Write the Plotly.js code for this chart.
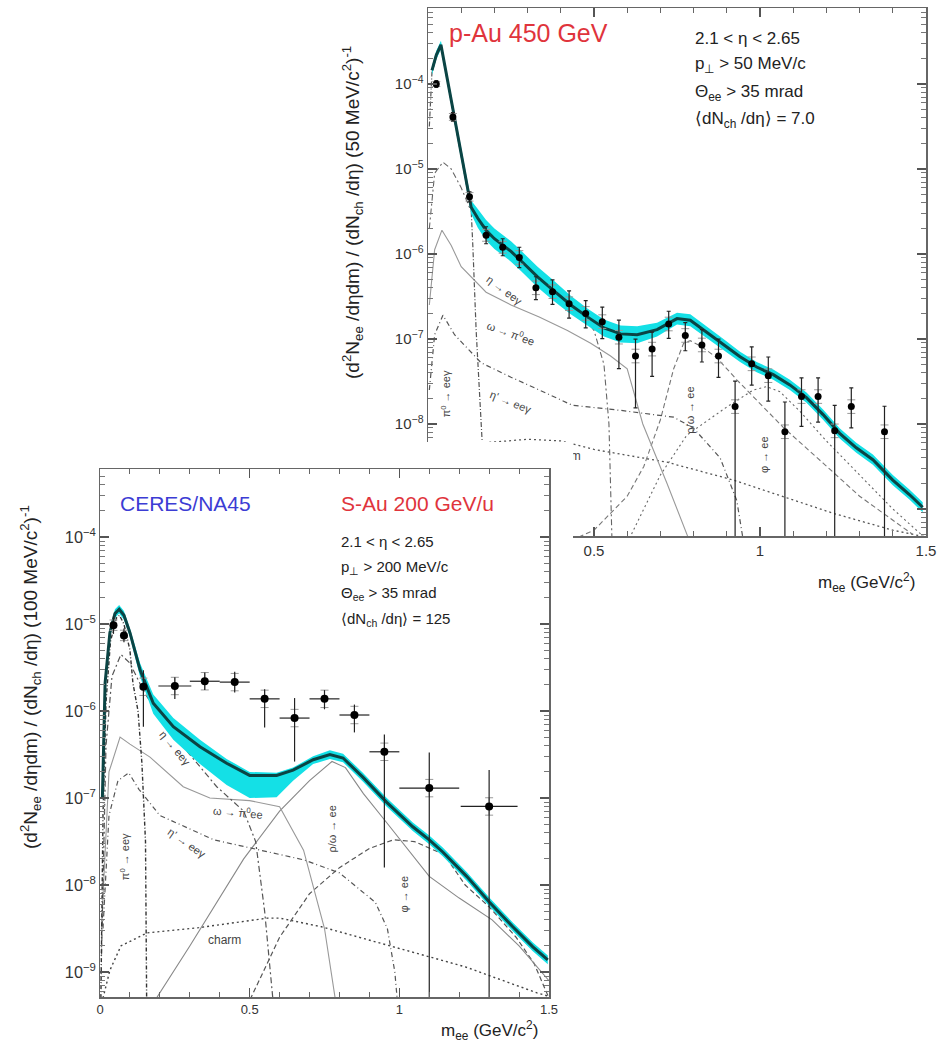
<!DOCTYPE html>
<html><head><meta charset="utf-8">
<script src="https://cdn.plot.ly/plotly-3.0.1.min.js"></script>
<style>html,body{margin:0;padding:0;background:#fff}#chart{width:942px;height:1049px}</style>
</head><body><div id="chart"></div>
<script>
// ================= p-Au 450 GeV (upper panel) =================
const pauMass = [0.025,0.075,0.125,0.175,0.225,0.275,0.325,0.375,0.425,0.475,0.525,0.575,0.625,0.675,0.725,0.775,0.825,0.875,0.925,0.975,1.025,1.075,1.125,1.175,1.225,1.275,1.375];
const pauYield = [1.0e-4,4.1e-5,4.7e-6,1.66e-6,1.2e-6,9.1e-7,4.0e-7,3.6e-7,2.6e-7,2.0e-7,1.6e-7,1.05e-7,6.3e-8,7.6e-8,1.5e-7,1.1e-7,8.5e-8,6.3e-8,1.6e-8,5.1e-8,3.7e-8,8.1e-9,2.1e-8,2.1e-8,8.3e-9,1.6e-8,8.1e-9];
// statistical / systematic errors in decades (9 = bar runs off the bottom)
const pauStatUpDec = [0.04,0.05,0.06,0.1,0.1,0.12,0.13,0.14,0.15,0.15,0.17,0.2,0.2,0.2,0.15,0.15,0.18,0.2,0.3,0.2,0.22,0.35,0.22,0.22,0.3,0.22,0.3];
const pauStatDnDec = [0.04,0.05,0.06,0.1,0.1,0.12,0.14,0.15,0.17,0.17,0.2,0.37,0.61,0.32,0.17,0.18,0.2,0.25,9,0.25,0.3,9,0.35,0.3,9,0.25,9];
const pauSysDec = [0.03,0.04,0.05,0.07,0.07,0.08,0.08,0.08,0.08,0.08,0.08,0.08,0.08,0.08,0.08,0.08,0.08,0.08,0.08,0.08,0.08,0.08,0.08,0.08,0.08,0.08,0.08];

// total cocktail (log10 of yield) and its band half-width (decades)
const pauCurveMass = [0.012,0.025,0.039,0.06,0.08,0.1,0.13,0.15,0.175,0.2,0.25,0.28,0.33,0.375,0.43,0.48,0.53,0.58,0.63,0.69,0.75,0.79,0.84,0.89,0.94,0.99,1.04,1.09,1.14,1.19,1.24,1.29,1.34,1.4,1.45,1.49];
const pauTotalExp = [-3.84,-3.66,-3.54,-3.98,-4.4,-4.82,-5.45,-5.58,-5.72,-5.82,-5.97,-6.08,-6.27,-6.42,-6.6,-6.74,-6.87,-6.94,-6.95,-6.89,-6.76,-6.78,-6.92,-7.07,-7.21,-7.33,-7.42,-7.54,-7.69,-7.89,-8.11,-8.28,-8.42,-8.66,-8.83,-8.98];
const pauBandDec = [0.05,0.05,0.05,0.05,0.05,0.06,0.08,0.11,0.12,0.12,0.12,0.12,0.12,0.12,0.11,0.1,0.1,0.1,0.1,0.08,0.07,0.07,0.07,0.07,0.06,0.06,0.06,0.06,0.06,0.06,0.06,0.06,0.06,0.06,0.06,0.06];

// cocktail components (log10 of yield)
const pauPi0Mass = [0.004,0.012,0.025,0.039,0.06,0.08,0.1,0.12,0.13,0.135,0.145,0.163,0.17];
const pauPi0Exp = [-4.5,-3.86,-3.68,-3.56,-4.0,-4.42,-4.84,-5.26,-5.48,-5.9,-6.9,-8.2,-9.5];
const pauEtaMass = [0.004,0.02,0.045,0.07,0.1,0.13,0.16,0.2,0.25,0.3,0.35,0.4,0.45,0.5,0.53,0.545,0.555];
const pauEtaExp = [-5.7,-5.05,-4.92,-5.0,-5.22,-5.5,-5.68,-5.87,-6.02,-6.16,-6.32,-6.47,-6.65,-6.9,-7.3,-8.0,-9.5];
const pauOmegaDalMass = [0.004,0.02,0.042,0.07,0.1,0.175,0.25,0.335,0.42,0.49,0.55,0.6,0.647,0.72,0.8];
const pauOmegaDalExp = [-6.6,-5.95,-5.72,-5.9,-6.15,-6.45,-6.6,-6.74,-6.9,-7.05,-7.2,-7.35,-8.0,-8.7,-9.5];
const pauEtaPrimeMass = [0.004,0.02,0.045,0.08,0.16,0.25,0.335,0.435,0.58,0.74,0.8,0.88,0.93,0.955];
const pauEtaPrimeExp = [-7.6,-6.95,-6.72,-6.95,-7.28,-7.45,-7.6,-7.78,-7.84,-7.92,-8.05,-8.4,-8.9,-9.5];
const pauRhoMass = [0.3,0.5,0.6,0.65,0.7,0.74,0.77,0.79,0.82,0.87,0.93,1.07,1.19,1.3,1.46];
const pauRhoExp = [-9.6,-9.25,-8.85,-8.5,-7.95,-7.35,-7.05,-7.02,-7.08,-7.22,-7.48,-8.04,-8.46,-8.85,-9.3];
const pauPhiMass = [0.6,0.7,0.78,0.9,0.98,1.02,1.06,1.12,1.2,1.3,1.4,1.5];
const pauPhiExp = [-9.4,-8.6,-8.13,-7.8,-7.6,-7.56,-7.62,-7.85,-8.2,-8.6,-9.0,-9.35];
const pauCharmMass = [0.02,0.06,0.1,0.175,0.3,0.4,0.5,0.72,0.92,1.22,1.4,1.5];
const pauCharmExp = [-9.4,-8.8,-8.45,-8.22,-8.18,-8.2,-8.3,-8.45,-8.66,-9.05,-9.25,-9.33];
// tick labels of the upper panel (the lowest ones lie under the lower figure)
const pauXTickVals = [0, 0.5, 1, 1.5];
const pauXTickText = ['', '0.5', '1', '1.5'];
const pauYTickVals = [1e-9, 1e-8, 1e-7, 1e-6, 1e-5, 1e-4];
const pauYTickText = ['', '10<sup>−8</sup>', '10<sup>−7</sup>', '10<sup>−6</sup>', '10<sup>−5</sup>', '10<sup>−4</sup>'];

// ================= S-Au 200 GeV/u (lower panel) =================
const sauMass = [0.045,0.08,0.145,0.25,0.35,0.45,0.55,0.65,0.75,0.85,0.95,1.1,1.3];
const sauYield = [9.7e-6,7.4e-6,1.9e-6,1.94e-6,2.2e-6,2.15e-6,1.38e-6,8.3e-7,1.38e-6,9.0e-7,3.4e-7,1.3e-7,8.0e-8];
const sauBinHalfWidth = [0,0,0,0.055,0.05,0.05,0.05,0.05,0.05,0.05,0.05,0.1,0.095];
const sauStatUpDec = [0.1,0.08,0.19,0.1,0.1,0.12,0.11,0.23,0.1,0.12,0.2,0.41,0.42];
const sauStatDnDec = [0.1,0.08,0.46,0.15,0.1,0.12,0.33,0.5,0.12,0.2,1.33,9,9];
const sauSysDec = [0.06,0.06,0.1,0.1,0.1,0.1,0.1,0.1,0.1,0.1,0.1,0.1,0.1];

const sauCurveMass = [0.008,0.017,0.033,0.05,0.064,0.08,0.1,0.134,0.178,0.245,0.334,0.423,0.5,0.59,0.645,0.712,0.768,0.812,0.878,0.958,1.045,1.1,1.145,1.225,1.302,1.379,1.446,1.496];
const sauTotalExp = [-7.0,-5.68,-5.1,-4.88,-4.83,-4.9,-5.1,-5.53,-5.91,-6.18,-6.41,-6.6,-6.74,-6.74,-6.68,-6.56,-6.5,-6.54,-6.76,-7.05,-7.33,-7.48,-7.62,-7.9,-8.2,-8.48,-8.71,-8.86];
const sauBandUpDec = [0.05,0.05,0.05,0.05,0.05,0.05,0.05,0.08,0.1,0.1,0.08,0.05,0.04,0.03,0.03,0.04,0.05,0.05,0.05,0.05,0.05,0.05,0.05,0.05,0.05,0.05,0.05,0.05];
const sauBandDnDec = [0.05,0.05,0.05,0.05,0.05,0.05,0.05,0.08,0.12,0.15,0.2,0.25,0.26,0.25,0.12,0.05,0.05,0.05,0.05,0.05,0.05,0.05,0.05,0.05,0.05,0.05,0.05,0.05];

const sauPi0Mass = [0.003,0.01,0.02,0.035,0.055,0.065,0.08,0.1,0.11,0.127,0.14,0.152,0.156];
const sauPi0Exp = [-9.3,-7.2,-5.9,-5.2,-4.93,-4.9,-5.0,-5.3,-5.68,-6.0,-6.6,-7.5,-9.4];
const sauEtaMass = [0.005,0.02,0.04,0.07,0.1,0.15,0.2,0.25,0.3,0.39,0.48,0.52,0.55,0.58];
const sauEtaExp = [-8.8,-6.4,-5.6,-5.35,-5.45,-5.8,-6.05,-6.3,-6.5,-6.87,-7.15,-7.5,-8.3,-9.4];
const sauOmegaDalMass = [0.005,0.03,0.067,0.1,0.167,0.278,0.367,0.5,0.6,0.68,0.75,0.79];
const sauOmegaDalExp = [-8.5,-6.7,-6.3,-6.38,-6.53,-6.87,-7.0,-7.03,-7.1,-7.6,-8.5,-9.4];
const sauEtaPrimeMass = [0.01,0.03,0.06,0.096,0.13,0.2,0.38,0.5,0.68,0.8,0.92,0.96,0.985,0.995];
const sauEtaPrimeExp = [-8.5,-7.2,-6.8,-6.71,-6.9,-7.2,-7.48,-7.57,-7.71,-7.86,-8.2,-8.5,-9.0,-9.4];
const sauRhoMass = [0.17,0.3,0.48,0.6,0.7,0.775,0.82,0.88,0.95,1.02,1.1,1.2,1.31,1.4,1.5];
const sauRhoExp = [-9.4,-8.7,-7.7,-7.15,-6.8,-6.58,-6.65,-6.95,-7.25,-7.55,-7.9,-8.15,-8.4,-8.7,-9.1];
const sauPhiMass = [0.49,0.6,0.7,0.8,0.9,0.98,1.05,1.15,1.22,1.3,1.39,1.45,1.5];
const sauPhiExp = [-9.4,-8.6,-8.1,-7.8,-7.58,-7.48,-7.5,-7.65,-8.0,-8.25,-8.6,-8.9,-9.3];
const sauCharmMass = [0.01,0.033,0.07,0.157,0.33,0.56,0.6,0.74,0.98,1.22,1.46,1.5];
const sauCharmExp = [-9.3,-8.98,-8.7,-8.55,-8.49,-8.38,-8.38,-8.48,-8.71,-8.94,-9.24,-9.28];

// ================= helpers =================
const FONT = 'Liberation Sans, Arial, Helvetica, sans-serif';
const W = 942, H = 1049;
const fx = p => p / W, fy = p => 1 - p / H;
const pw = a => a.map(e => Math.pow(10, e));
const shift = (exps, dec, s) => exps.map((e, i) => Math.pow(10, e + s * dec[i]));
const errUp = (v, d) => v.map((y, i) => y * (Math.pow(10, d[i]) - 1));
const errDn = (v, d) => v.map((y, i) => y * (1 - Math.pow(10, -d[i])));

function comp(xs, exps, ax, color, dash, width) {
  return {x: xs, y: pw(exps), xaxis: ax[0], yaxis: ax[1], mode: 'lines', hoverinfo: 'skip',
          line: {color: color, dash: dash, width: width || 1.2}, showlegend: false};
}
function band(xs, exps, up, dn, ax) {
  return [
    {x: xs, y: shift(exps, dn, -1), xaxis: ax[0], yaxis: ax[1], mode: 'lines', line: {width: 0, color: 'rgba(0,0,0,0)'}, hoverinfo: 'skip', showlegend: false},
    {x: xs, y: shift(exps, up, 1), xaxis: ax[0], yaxis: ax[1], mode: 'lines', fill: 'tonexty', fillcolor: 'rgb(20,224,230)', line: {width: 0, color: 'rgba(0,0,0,0)'}, hoverinfo: 'skip', showlegend: false}
  ];
}
const TOP = ['x', 'y'], LOW = ['x3', 'y3'];

const traces = [];
// ---- upper panel ----
traces.push(comp(pauCharmMass, pauCharmExp, TOP, '#555', '2px,3px', 1.3));
traces.push(comp(pauPhiMass, pauPhiExp, TOP, '#666', '2px,3px', 1.1));
traces.push(comp(pauRhoMass, pauRhoExp, TOP, '#777', '5px,3px', 1.1));
traces.push(comp(pauEtaPrimeMass, pauEtaPrimeExp, TOP, '#555', '5px,3px,1px,3px', 1.2));
traces.push(comp(pauOmegaDalMass, pauOmegaDalExp, TOP, '#999', 'solid', 1.1));
traces.push(comp(pauEtaMass, pauEtaExp, TOP, '#666', '6px,3px,2px,3px', 1.1));
traces.push(comp(pauPi0Mass, pauPi0Exp, TOP, '#555', '5px,2px,1px,2px', 1.2));
traces.push(...band(pauCurveMass, pauTotalExp, pauBandDec, pauBandDec, TOP));
traces.push({x: pauCurveMass, y: pw(pauTotalExp), xaxis: 'x', yaxis: 'y', mode: 'lines', line: {color: '#0b4444', width: 3}, hoverinfo: 'skip', showlegend: false});
traces.push({x: [0.41], y: [Math.pow(10, -8.39)], xaxis: 'x', yaxis: 'y', mode: 'text', text: ['charm'], textfont: {family: FONT, size: 12, color: '#444'}, hoverinfo: 'skip', showlegend: false});
traces.push({x: pauMass, y: pauYield, xaxis: 'x', yaxis: 'y', mode: 'markers', marker: {size: 1, color: 'rgba(0,0,0,0)'},
  error_y: {type: 'data', symmetric: false, array: errUp(pauYield, pauSysDec), arrayminus: errDn(pauYield, pauSysDec), color: '#999', thickness: 1, width: 4}, hoverinfo: 'skip', showlegend: false});
traces.push({x: pauMass, y: pauYield, xaxis: 'x', yaxis: 'y', mode: 'markers', marker: {size: 7, color: '#000'},
  error_y: {type: 'data', symmetric: false, array: errUp(pauYield, pauStatUpDec), arrayminus: errDn(pauYield, pauStatDnDec), color: '#222', thickness: 1.2, width: 2}, showlegend: false});

// ---- white sheet of the lower figure (covers the upper panel) ----
traces.push({x: [-1, 2, 2, -1, -1], y: [-1, -1, 2, 2, -1], xaxis: 'x2', yaxis: 'y2', mode: 'lines', fill: 'toself', fillcolor: '#ffffff', line: {width: 0, color: '#ffffff'}, hoverinfo: 'skip', showlegend: false});

// ---- lower panel ----
traces.push(comp(sauCharmMass, sauCharmExp, LOW, '#444', '2px,3px', 1.4));
traces.push(comp(sauPhiMass, sauPhiExp, LOW, '#555', '5px,3px', 1.2));
traces.push(comp(sauRhoMass, sauRhoExp, LOW, '#888', 'solid', 1.1));
traces.push(comp(sauEtaPrimeMass, sauEtaPrimeExp, LOW, '#555', '5px,3px,1px,3px', 1.2));
traces.push(comp(sauOmegaDalMass, sauOmegaDalExp, LOW, '#999', 'solid', 1.1));
traces.push(comp(sauEtaMass, sauEtaExp, LOW, '#555', '6px,3px,2px,3px', 1.2));
traces.push(comp(sauPi0Mass, sauPi0Exp, LOW, '#333', '4px,2px,1px,2px', 1.4));
traces.push(...band(sauCurveMass, sauTotalExp, sauBandUpDec, sauBandDnDec, LOW));
traces.push({x: sauCurveMass, y: pw(sauTotalExp), xaxis: 'x3', yaxis: 'y3', mode: 'lines', line: {color: '#0b4444', width: 3}, hoverinfo: 'skip', showlegend: false});
traces.push({x: sauMass, y: sauYield, xaxis: 'x3', yaxis: 'y3', mode: 'markers', marker: {size: 1, color: 'rgba(0,0,0,0)'},
  error_y: {type: 'data', symmetric: false, array: errUp(sauYield, sauSysDec), arrayminus: errDn(sauYield, sauSysDec), color: '#999', thickness: 1, width: 4}, hoverinfo: 'skip', showlegend: false});
traces.push({x: sauMass, y: sauYield, xaxis: 'x3', yaxis: 'y3', mode: 'markers', marker: {size: 8, color: '#000'},
  error_x: {type: 'data', array: sauBinHalfWidth, color: '#222', thickness: 1.2, width: 0},
  error_y: {type: 'data', symmetric: false, array: errUp(sauYield, sauStatUpDec), arrayminus: errDn(sauYield, sauStatDnDec), color: '#222', thickness: 1.2, width: 0}, showlegend: false});

// ================= layout =================
function xax(dom, anchor, size, extra) {
  return Object.assign({domain: dom, anchor: anchor, range: [0, 1.5], dtick: 0.5, tick0: 0, ticks: 'inside', ticklen: 9, tickwidth: 1.2,
    tickcolor: '#555', showline: true, linecolor: '#666', linewidth: 1.5, mirror: 'allticks', showgrid: false, zeroline: false,
    tickfont: {family: FONT, size: size, color: '#333'},
    minor: {ticks: 'inside', ticklen: 5, dtick: 0.1, tick0: 0, tickcolor: '#666', tickwidth: 1, showgrid: false}}, extra || {});
}
function yax(dom, anchor, range, size, extra) {
  return Object.assign({domain: dom, anchor: anchor, type: 'log', range: range, dtick: 1, exponentformat: 'power', ticks: 'inside', ticklen: 9, tickwidth: 1.2,
    tickcolor: '#555', showline: true, linecolor: '#666', linewidth: 1.5, mirror: 'allticks', showgrid: false, zeroline: false,
    tickfont: {family: FONT, size: size, color: '#333'},
    minor: {ticks: 'inside', ticklen: 5, dtick: 'D1', tickcolor: '#777', tickwidth: 1, showgrid: false}}, extra || {});
}

function note(text, x, y, opts) {
  return Object.assign({text: text, x: x, y: y, xref: 'paper', yref: 'paper', showarrow: false,
    xanchor: 'center', yanchor: 'middle', font: {family: FONT, size: 16, color: '#222'}}, opts || {});
}
function lab(text, x, y, ax, angle, size) {
  return {text: text, x: x, y: y, xref: ax[0], yref: ax[1], showarrow: false, textangle: angle,
    xanchor: 'center', yanchor: 'middle', font: {family: FONT, size: size || 11, color: '#444'}};
}

const annotations = [
  // upper panel headers
  note('p-Au 450 GeV', fx(447), fy(33), {xanchor: 'left', font: {family: FONT, size: 25, color: '#e0343c'}}),
  note('2.1 &lt; η &lt; 2.65', fx(693), fy(38), {xanchor: 'left', font: {family: FONT, size: 17, color: '#222'}}),
  note('p<sub>⊥</sub> &gt; 50 MeV/c', fx(693), fy(65), {xanchor: 'left', font: {family: FONT, size: 17, color: '#222'}}),
  note('Θ<sub>ee</sub> &gt; 35 mrad', fx(693), fy(93), {xanchor: 'left', font: {family: FONT, size: 17, color: '#222'}}),
  note('⟨dN<sub>ch</sub> /dη⟩ = 7.0', fx(693), fy(120), {xanchor: 'left', font: {family: FONT, size: 17, color: '#222'}}),
  note('(d<sup>2</sup>N<sub>ee</sub> /dηdm) / (dN<sub>ch</sub> /dη) (50 MeV/c<sup>2</sup>)<sup>-1</sup>', fx(352), fy(213), {textangle: -90, font: {family: FONT, size: 19, color: '#222'}}),
  note('m<sub>ee</sub> (GeV/c<sup>2</sup>)', fx(866), fy(582), {font: {family: FONT, size: 17, color: '#222'}}),
  // lower panel headers
  note('CERES/NA45', fx(118), fy(503), {xanchor: 'left', font: {family: FONT, size: 21, color: '#3c3cd4'}}),
  note('S-Au 200 GeV/u', fx(339), fy(503), {xanchor: 'left', font: {family: FONT, size: 21, color: '#e0343c'}}),
  note('2.1 &lt; η &lt; 2.65', fx(339), fy(541), {xanchor: 'left', font: {family: FONT, size: 15, color: '#222'}}),
  note('p<sub>⊥</sub> &gt; 200 MeV/c', fx(339), fy(567), {xanchor: 'left', font: {family: FONT, size: 15, color: '#222'}}),
  note('Θ<sub>ee</sub> &gt; 35 mrad', fx(339), fy(593), {xanchor: 'left', font: {family: FONT, size: 15, color: '#222'}}),
  note('⟨dN<sub>ch</sub> /dη⟩ = 125', fx(339), fy(619), {xanchor: 'left', font: {family: FONT, size: 15, color: '#222'}}),
  note('(d<sup>2</sup>N<sub>ee</sub> /dηdm) / (dN<sub>ch</sub> /dη) (100 MeV/c<sup>2</sup>)<sup>-1</sup>', fx(30), fy(677), {textangle: -90, font: {family: FONT, size: 19, color: '#222'}}),
  note('m<sub>ee</sub> (GeV/c<sup>2</sup>)', fx(489), fy(1030), {font: {family: FONT, size: 17, color: '#222'}}),
  // upper panel curve labels
  lab('η → eeγ', 0.23, -6.42, TOP, 37),
  lab('ω → π<sup>0</sup>ee', 0.25, -6.93, TOP, 20),
  lab("η' → eeγ", 0.25, -7.74, TOP, 22),
  lab('π<sup>0</sup> → eeγ', 0.054, -7.64, TOP, -90),
  lab('ρ/ω → ee', 0.79, -7.84, TOP, -90),
  lab('φ → ee', 1.01, -8.36, TOP, -90),
  // lower panel curve labels
  lab('η → eeγ', 0.25, -6.43, LOW, 50),
  lab('ω → π<sup>0</sup>ee', 0.46, -7.16, LOW, 5),
  lab("η' → eeγ", 0.29, -7.52, LOW, 35),
  lab('π<sup>0</sup> → eeγ', 0.083, -7.67, LOW, -90),
  lab('ρ/ω → ee', 0.775, -7.35, LOW, -90),
  lab('φ → ee', 1.015, -8.11, LOW, -90),
  lab('charm', 0.417, -8.63, LOW, 0, 12)
];

const layout = {
  width: W, height: H, margin: {l: 0, r: 0, t: 0, b: 0}, showlegend: false,
  paper_bgcolor: '#fff', plot_bgcolor: '#fff', font: {family: FONT},
  xaxis: xax([428 / W, 926 / W], 'y', 15, {tickmode: 'array', tickvals: pauXTickVals, ticktext: pauXTickText}),
  yaxis: yax([1 - 536 / H, 1 - 8 / H], 'x', [-9.318, -3.106], 15, {tickmode: 'array', tickvals: pauYTickVals, ticktext: pauYTickText}),
  xaxis2: {domain: [0, 573 / W], anchor: 'y2', range: [0, 1], visible: false, fixedrange: true},
  yaxis2: {domain: [0, 1 - 442 / H], anchor: 'x2', range: [0, 1], visible: false, fixedrange: true},
  xaxis3: xax([100 / W, 549 / W], 'y3', 13),
  yaxis3: yax([1 - 997 / H, 1 - 469 / H], 'x3', [-9.287, -3.218], 13),
  annotations: annotations
};

Plotly.newPlot('chart', traces, layout, {displayModeBar: false, staticPlot: true});
</script></body></html>
